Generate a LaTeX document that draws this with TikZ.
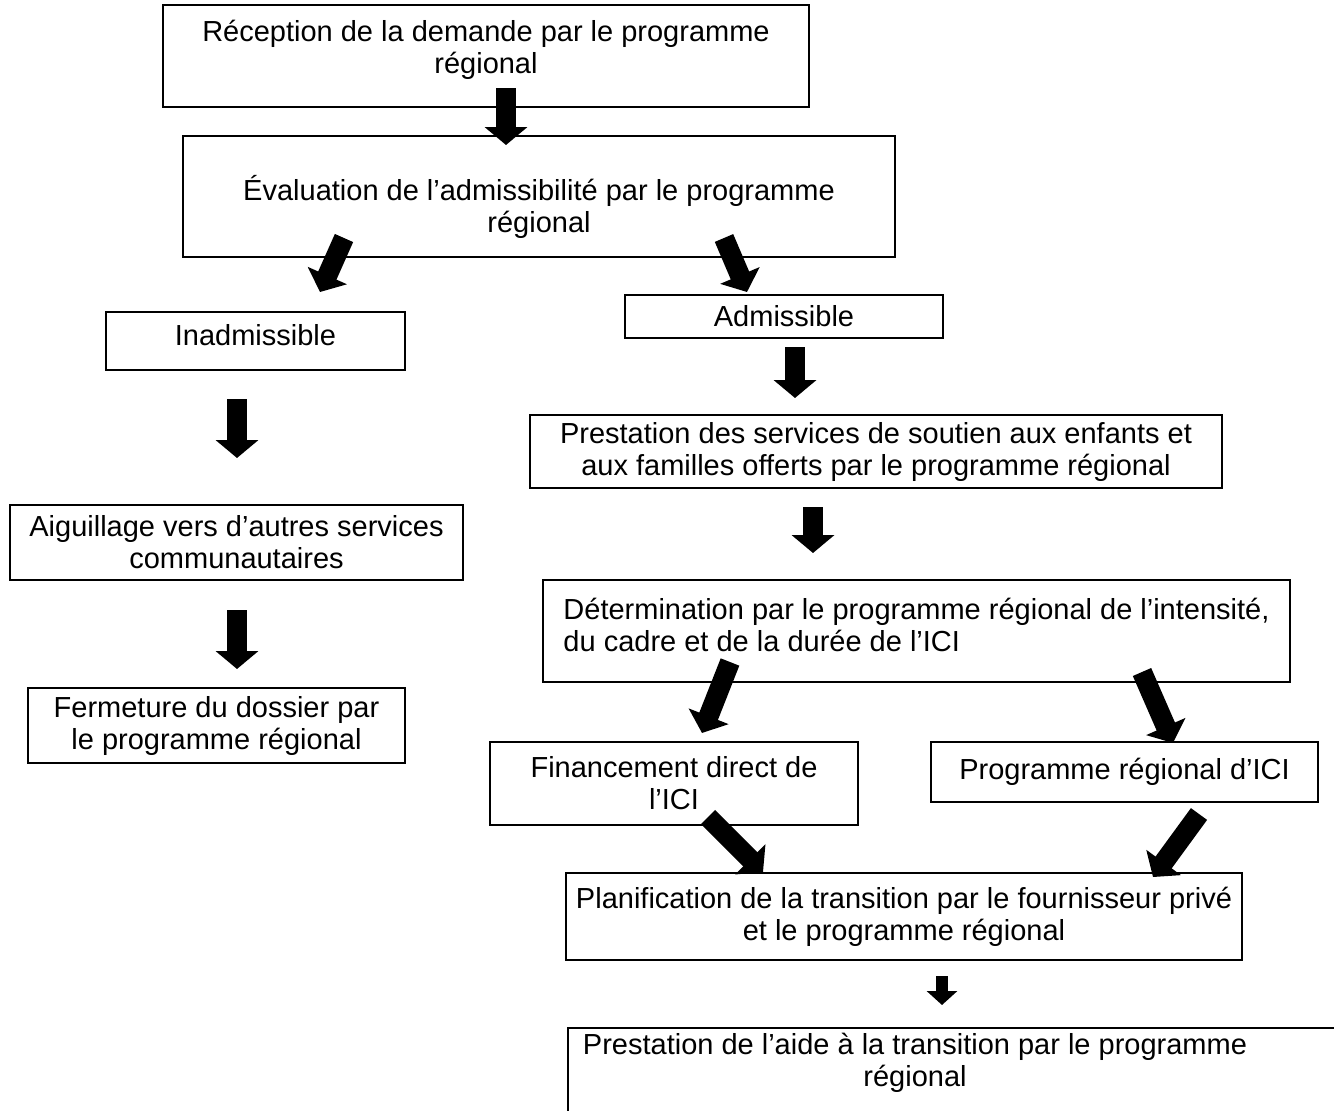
\documentclass[tikz,border=0pt]{standalone}
\usepackage{fontspec}
\setmainfont{Liberation Sans}
\usetikzlibrary{arrows.meta}

\begin{document}
\begin{tikzpicture}[x=1pt, y=-1pt,
    txt/.style={inner sep=0pt, align=center, font=\fontsize{29}{32}\selectfont},
    box/.style={draw, line width=2pt, txt},
    fat/.style={line width=20pt, -{Triangle[width=42pt,length=18pt]}},
    smallfat/.style={line width=12pt, -{Triangle[width=30pt,length=14pt]}}]
    \fill[white] (0,0) rectangle (1334,1111);
    \useasboundingbox (0,0) rectangle (1334,1111);
    \clip (0,0) rectangle (1334,1111);

    \node[box, minimum width=646pt, minimum height=102pt, label={[txt, yshift=6pt]center:{Réception de la demande par le programme\\régional}}] (recep) at (486,56) {};
    \node[box, minimum width=712pt, minimum height=121pt, label={[txt, yshift=-11pt]center:{Évaluation de l’admissibilité par le programme\\régional}}] (evalu) at (539,196) {};
    \node[box, minimum width=299pt, minimum height=58pt, label={[txt, yshift=6pt]center:Inadmissible}] (inadm) at (255.5,341) {};
    \node[box, minimum width=318pt, minimum height=43pt] (admis) at (784,316.5) {Admissible};
    \node[box, minimum width=692pt, minimum height=73pt] (prest) at (876,451.5) {Prestation des services de soutien aux enfants et\\aux familles offerts par le programme régional};
    \node[box, minimum width=453pt, minimum height=75pt] (aigui) at (236.5,542.5) {Aiguillage vers d’autres services\\communautaires};
    \node[box, minimum width=377pt, minimum height=75pt] (ferme) at (216.5,725.5) {Fermeture du dossier par\\le programme régional};
    \node[box, minimum width=747pt, minimum height=102pt, label={[txt, align=left, yshift=6pt]center:{Détermination par le programme régional de l’intensité,\\du cadre et de la durée de l’ICI}}] (deter) at (916.5,631) {};
    \node[box, minimum width=368pt, minimum height=83pt] (finan) at (674,783.5) {Financement direct de\\l’ICI};
    \node[box, minimum width=387pt, minimum height=60pt] (progr) at (1124.5,772) {Programme régional d’ICI};
    \node[box, minimum width=676pt, minimum height=87pt] (plani) at (904,916.5) {Planification de la transition par le fournisseur privé\\et le programme régional};
    \node[txt] (aide) at (915,1063) {Prestation de l’aide à la transition par le programme\\régional};
    \draw[line width=2pt] (568,1130) |- (1345,1028);

    % Draw arrows
    \coordinate (t1) at (506,88);   \coordinate (h1) at (506,145);
    \coordinate (t2) at (344,238);  \coordinate (h2) at (320,292);
    \coordinate (t3) at (724,238);  \coordinate (h3) at (747,292);
    \coordinate (t4) at (237,399);  \coordinate (h4) at (237,458);
    \coordinate (t5) at (237,610);  \coordinate (h5) at (237,669);
    \coordinate (t6) at (795,347);  \coordinate (h6) at (795,398);
    \coordinate (t7) at (813,507);  \coordinate (h7) at (813,553);
    \coordinate (t8) at (730,662);  \coordinate (h8) at (702,733);
    \coordinate (t9) at (1142,672); \coordinate (h9) at (1173,743);
    \coordinate (t10) at (708,817); \coordinate (h10) at (763,872);
    \coordinate (t11) at (1199,814); \coordinate (h11) at (1153,877);
    \coordinate (t12) at (942,976); \coordinate (h12) at (942,1005);

    \draw[fat] (t1) -- (h1);
    \draw[fat] (t2) -- (h2);
    \draw[fat] (t3) -- (h3);
    \draw[fat] (t4) -- (h4);
    \draw[fat] (t5) -- (h5);
    \draw[fat] (t6) -- (h6);
    \draw[fat] (t7) -- (h7);
    \draw[fat] (t8) -- (h8);
    \draw[fat] (t9) -- (h9);
    \draw[fat] (t10) -- (h10);
    \draw[fat] (t11) -- (h11);
    \draw[smallfat] (t12) -- (h12);
\end{tikzpicture}
\end{document}
